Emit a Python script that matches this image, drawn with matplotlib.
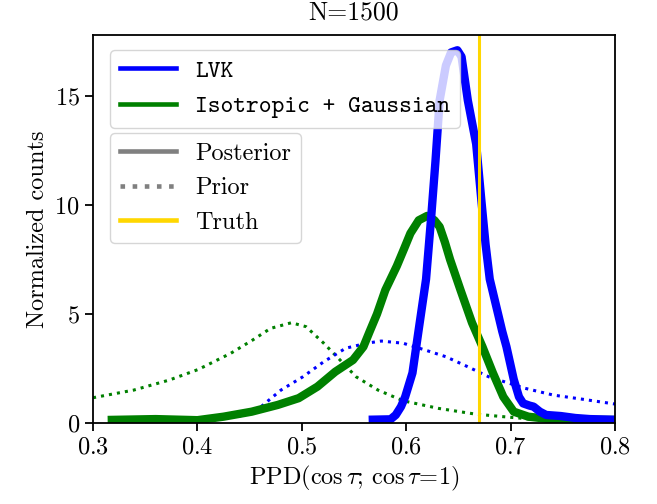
import matplotlib
matplotlib.use("Agg")
import matplotlib.pyplot as plt
from matplotlib.lines import Line2D

plt.rcParams["font.family"] = "serif"
plt.rcParams["font.serif"] = ["cmr10"]
plt.rcParams["mathtext.fontset"] = "cm"
plt.rcParams["axes.formatter.use_mathtext"] = True
plt.rcParams["font.size"] = 17.5

# --- data ---
lvk_post_x = [0.564, 0.585, 0.590, 0.595, 0.599, 0.606, 0.612, 0.619, 0.624, 0.628,
              0.632, 0.638, 0.643, 0.649, 0.653, 0.659, 0.667, 0.672, 0.676, 0.680,
              0.684, 0.688, 0.692, 0.696, 0.703, 0.708, 0.712, 0.718, 0.722, 0.728,
              0.734, 0.748, 0.762, 0.776, 0.800]
lvk_post_y = [0.15, 0.17, 0.37, 0.75, 1.2, 2.3, 4.3, 6.6, 9.5, 12.0,
              14.8, 16.4, 17.0, 17.1, 16.8, 14.8, 12.8, 10.2, 8.2, 6.6,
              5.8, 5.0, 4.2, 3.5, 2.0, 1.2, 0.9, 0.8, 0.75, 0.52,
              0.37, 0.32, 0.23, 0.18, 0.15]

iso_post_x = [0.314, 0.36, 0.40, 0.425, 0.452, 0.477, 0.497, 0.515, 0.532, 0.549,
              0.559, 0.565, 0.572, 0.580, 0.591, 0.598, 0.604, 0.612, 0.620, 0.627,
              0.632, 0.637, 0.642, 0.652, 0.663, 0.673, 0.683, 0.693, 0.703, 0.717,
              0.734, 0.76, 0.80]
iso_post_y = [0.14, 0.18, 0.13, 0.29, 0.52, 0.83, 1.14, 1.67, 2.35, 2.89,
              3.5, 4.2, 5.0, 6.1, 7.2, 8.0, 8.7, 9.3, 9.5, 9.3,
              9.0, 8.3, 7.5, 6.1, 4.6, 3.5, 2.3, 1.2, 0.52, 0.29,
              0.2, 0.15, 0.14]

lvk_prior_x = [0.44, 0.461, 0.480, 0.501, 0.521, 0.542, 0.562, 0.576, 0.597, 0.618,
               0.638, 0.659, 0.679, 0.714, 0.741, 0.769, 0.800]
lvk_prior_y = [0.3, 0.75, 1.51, 2.12, 2.81, 3.43, 3.66, 3.76, 3.66, 3.35,
               3.04, 2.58, 2.12, 1.59, 1.28, 1.09, 0.87]

iso_prior_x = [0.30, 0.339, 0.373, 0.401, 0.432, 0.453, 0.470, 0.490, 0.504, 0.521,
               0.535, 0.552, 0.573, 0.597, 0.631, 0.666, 0.693, 0.72, 0.75]
iso_prior_y = [1.16, 1.51, 1.97, 2.46, 3.2, 3.81, 4.34, 4.6, 4.42, 3.66,
               2.97, 2.12, 1.51, 1.02, 0.67, 0.41, 0.29, 0.18, 0.1]

truth = 0.67

fig = plt.figure(figsize=(6.57, 5.04), dpi=100)
ax = fig.add_axes([0.1416, 0.1607, 0.7945, 0.7699])

ax.plot(iso_prior_x, iso_prior_y, color="green", ls=":", lw=2.2)
ax.plot(lvk_prior_x, lvk_prior_y, color="blue", ls=":", lw=2.2)
ax.plot(iso_post_x, iso_post_y, color="green", lw=6, solid_joinstyle="round", solid_capstyle="butt")
ax.plot(lvk_post_x, lvk_post_y, color="blue", lw=6, solid_joinstyle="round", solid_capstyle="butt")
ax.axvline(truth, color="gold", lw=2.2)

ax.set_xlim(0.3, 0.8)
ax.set_ylim(0, 17.8)
ax.set_yticks([0, 5, 10, 15])
ax.set_xlabel(r"PPD$(\cos\tau;\,\cos\tau\!=\!1)$")
ax.set_ylabel("Normalized counts")
ax.set_title("N=1500", fontsize=18.5, pad=11)
for s in ax.spines.values():
    s.set_linewidth(1.3)
ax.tick_params(length=6, width=1.3)

h1 = [Line2D([], [], color="blue", lw=3.3), Line2D([], [], color="green", lw=3.3)]
leg1 = ax.legend(h1, ["LVK", "Isotropic + Gaussian"], loc="upper left",
                 bbox_to_anchor=(0.033, 0.961), borderaxespad=0, handlelength=2.3,
                 prop={"family": "cmtt10", "size": 17.5})
ax.add_artist(leg1)

h2 = [Line2D([], [], color="gray", lw=3.3),
      Line2D([], [], color="gray", lw=3.3, ls=":"),
      Line2D([], [], color="gold", lw=3.3)]
ax.legend(h2, ["Posterior", "Prior", "Truth"], loc="upper left",
          bbox_to_anchor=(0.033, 0.747), borderaxespad=0, handlelength=2.3)

fig.savefig("out.png", dpi=100)
